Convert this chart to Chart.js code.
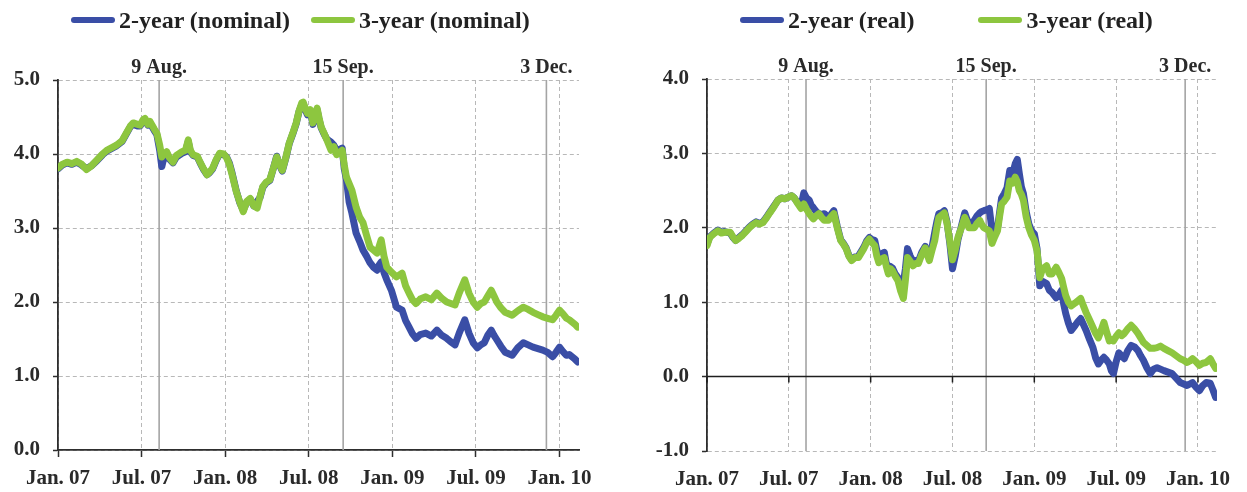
<!DOCTYPE html>
<html>
<head>
<meta charset="utf-8">
<script src="https://cdn.jsdelivr.net/npm/chart.js@4.4.1/dist/chart.umd.min.js"></script>
<style>
  html, body { margin: 0; padding: 0; background: #fff; }
  #wrap { position: relative; width: 1247px; height: 492px; overflow: hidden; }
  .panel { position: absolute; top: 0; height: 492px; }
  #p1 { left: 0; width: 620px; }
  #p2 { left: 620px; width: 627px; }
  .legend { position: absolute; top: 8px; display: flex; align-items: center;
            font: bold 24px "Liberation Serif", "Times New Roman", serif; color: #222;
            line-height: 24px; white-space: nowrap; }
  .legend .item { display: flex; align-items: center; }
  .legend .sw { display: inline-block; width: 44px; height: 6px; border-radius: 3px; margin-right: 4px; }
</style>
</head>
<body>
<div id="wrap">
  <div class="panel" id="p1"><canvas id="c1" width="620" height="492"></canvas></div>
  <div class="panel" id="p2"><canvas id="c2" width="627" height="492"></canvas></div>
  <div class="legend" id="lg1" style="left:71px; gap:21px;"></div>
  <div class="legend" id="lg2" style="left:740px; gap:64px;"></div>
</div>
<script>
// Months elapsed since January 2007; axis ticks every half year.
const xTickValues = [0, 6, 12, 18, 24, 30, 36];
const xTickLabels = ['Jan. 07', 'Jul. 07', 'Jan. 08', 'Jul. 08', 'Jan. 09', 'Jul. 09', 'Jan. 10'];

// Marked dates: 9 Aug 2007, 15 Sep 2008, 3 Dec 2009
const eventMonths = [7.26, 20.47, 35.06];
const eventLabels = ['9 Aug.', '15 Sep.', '3 Dec.'];

const nominalLabels = ['2-year (nominal)', '3-year (nominal)'];
const realLabels = ['2-year (real)', '3-year (real)'];

// Nominal yields (%)
const nominalMonths = [
  0, 0.3, 0.65, 1, 1.35, 1.7, 2.05, 2.4, 2.8, 3.2,
  3.5, 3.9, 4.2, 4.6, 4.9, 5.2, 5.4, 5.7, 5.9, 6.1,
  6.25, 6.45, 6.6, 6.9, 7.1, 7.3, 7.45, 7.6, 7.8, 8,
  8.25, 8.5, 8.9, 9.15, 9.35, 9.5, 9.7, 10, 10.2, 10.45,
  10.7, 10.9, 11.1, 11.35, 11.6, 11.9, 12.1, 12.3, 12.5, 12.8,
  13.05, 13.3, 13.55, 13.8, 14.05, 14.3, 14.5, 14.7, 14.95, 15.2,
  15.45, 15.7, 15.9, 16.1, 16.35, 16.6, 16.85, 17.1, 17.3, 17.5,
  17.6, 17.75, 17.9, 18.1, 18.3, 18.45, 18.6, 18.75, 18.9, 19.1,
  19.3, 19.6, 19.8, 20, 20.2, 20.4, 20.55, 20.7, 20.9, 21.1,
  21.4, 21.65, 21.9, 22.15, 22.4, 22.65, 22.9, 23.05, 23.2, 23.4,
  23.6, 23.95, 24.3, 24.7, 24.95, 25.2, 25.45, 25.7, 26, 26.4,
  26.8, 27.2, 27.55, 27.9, 28.2, 28.5, 28.8, 29.2, 29.5, 29.8,
  30.1, 30.35, 30.6, 30.85, 31.1, 31.3, 31.5, 31.8, 32.1, 32.35,
  32.6, 33, 33.4, 33.75, 34.1, 34.45, 34.8, 35.15, 35.5, 35.75,
  36, 36.25, 36.5, 36.7, 36.9, 37.1, 37.3
];
const nominal2y = [
  3.80, 3.85, 3.88, 3.86, 3.89, 3.85, 3.80, 3.84, 3.91, 3.99,
  4.04, 4.08, 4.11, 4.17, 4.27, 4.37, 4.40, 4.38, 4.38, 4.44,
  4.46, 4.39, 4.42, 4.32, 4.26, 4.05, 3.83, 3.95, 4.01, 3.93,
  3.88, 3.96, 4.01, 4.03, 4.17, 4.03, 3.98, 3.96, 3.88, 3.79,
  3.72, 3.75, 3.80, 3.91, 4.00, 3.99, 3.96, 3.88, 3.74, 3.50,
  3.34, 3.24, 3.35, 3.39, 3.30, 3.36, 3.41, 3.55, 3.61, 3.64,
  3.80, 3.97, 3.85, 3.77, 3.94, 4.14, 4.27, 4.41, 4.57, 4.67,
  4.68, 4.60, 4.53, 4.58, 4.40, 4.50, 4.60, 4.46, 4.35, 4.27,
  4.20, 4.16, 4.12, 4.05, 4.06, 4.08, 3.80, 3.66, 3.35, 3.20,
  2.93, 2.82, 2.70, 2.62, 2.53, 2.47, 2.43, 2.50, 2.54, 2.40,
  2.30, 2.15, 1.93, 1.89, 1.75, 1.66, 1.57, 1.51, 1.56, 1.58,
  1.54, 1.62, 1.55, 1.51, 1.46, 1.42, 1.58, 1.76, 1.58, 1.45,
  1.38, 1.42, 1.45, 1.55, 1.62, 1.55, 1.49, 1.40, 1.32, 1.30,
  1.28, 1.38, 1.45, 1.42, 1.39, 1.37, 1.35, 1.32, 1.26, 1.32,
  1.39, 1.33, 1.28, 1.29, 1.26, 1.23, 1.19
];
const nominal3y = [
  3.81, 3.86, 3.89, 3.87, 3.90, 3.86, 3.79, 3.84, 3.92, 4.00,
  4.05, 4.09, 4.12, 4.18, 4.28, 4.38, 4.42, 4.40, 4.39, 4.46,
  4.48, 4.40, 4.44, 4.34, 4.28, 4.12, 3.96, 4.00, 4.03, 3.95,
  3.89, 3.98, 4.03, 4.05, 4.19, 4.05, 3.99, 3.97, 3.89, 3.80,
  3.72, 3.76, 3.81, 3.92, 4.01, 4.00, 3.95, 3.86, 3.72, 3.49,
  3.35, 3.22, 3.36, 3.40, 3.30, 3.27, 3.42, 3.56, 3.62, 3.65,
  3.80, 3.96, 3.86, 3.78, 3.95, 4.15, 4.28, 4.42, 4.58, 4.69,
  4.70, 4.62, 4.55, 4.60, 4.42, 4.52, 4.62, 4.48, 4.36, 4.28,
  4.19, 4.05, 4.10, 3.99, 4.02, 4.05, 3.85, 3.69, 3.60, 3.51,
  3.28, 3.15, 3.07, 2.90, 2.74, 2.70, 2.66, 2.75, 2.84, 2.62,
  2.47, 2.40, 2.34, 2.39, 2.22, 2.12, 2.03, 1.98, 2.04, 2.07,
  2.03, 2.12, 2.05, 2.00, 1.98, 1.96, 2.12, 2.30, 2.12, 2.00,
  1.93, 1.98, 2.00, 2.08, 2.16, 2.08, 2.00, 1.92, 1.86, 1.84,
  1.82, 1.88, 1.93, 1.90, 1.86, 1.83, 1.80, 1.78, 1.76, 1.82,
  1.89, 1.84, 1.78, 1.76, 1.73, 1.70, 1.66
];

// Real yields (%)
const realMonths = [
  0, 0.2, 0.5, 0.8, 1.05, 1.3, 1.7, 1.9, 2.1, 2.35,
  2.6, 2.85, 3.1, 3.35, 3.6, 3.85, 4.1, 4.35, 4.6, 4.9,
  5.2, 5.45, 5.7, 5.95, 6.2, 6.4, 6.6, 6.9, 7.1, 7.3,
  7.5, 7.65, 7.8, 8, 8.2, 8.4, 8.6, 8.9, 9.1, 9.3,
  9.55, 9.8, 10, 10.2, 10.4, 10.6, 10.85, 11.1, 11.3, 11.5,
  11.7, 11.9, 12.1, 12.3, 12.45, 12.6, 12.8, 13, 13.15, 13.3,
  13.45, 13.6, 13.8, 14, 14.2, 14.4, 14.55, 14.7, 14.9, 15.1,
  15.3, 15.5, 15.75, 16, 16.15, 16.3, 16.5, 16.7, 16.85, 17,
  17.2, 17.4, 17.6, 17.8, 18, 18.2, 18.4, 18.65, 18.9, 19.05,
  19.2, 19.4, 19.6, 19.8, 20, 20.15, 20.3, 20.5, 20.7, 20.9,
  21.1, 21.3, 21.45, 21.6, 21.8, 22, 22.2, 22.4, 22.6, 22.75,
  22.9, 23.05, 23.2, 23.4, 23.6, 23.8, 24, 24.2, 24.4, 24.6,
  24.9, 25.1, 25.3, 25.6, 25.8, 26, 26.15, 26.3, 26.5, 26.7,
  27, 27.2, 27.4, 27.6, 27.8, 28.05, 28.3, 28.5, 28.7, 28.9,
  29.1, 29.3, 29.5, 29.65, 29.8, 30, 30.2, 30.4, 30.6, 30.85,
  31.1, 31.35, 31.6, 31.8, 32, 32.25, 32.5, 32.75, 33, 33.25,
  33.5, 33.8, 34.1, 34.4, 34.7, 34.95, 35.2, 35.4, 35.6, 35.85,
  36.1, 36.35, 36.6, 36.9, 37.1, 37.3
];
const real2y = [
  1.78, 1.88, 1.93, 1.97, 1.94, 1.95, 1.93, 1.87, 1.83, 1.87,
  1.91, 1.96, 2.01, 2.05, 2.08, 2.06, 2.08, 2.14, 2.21, 2.29,
  2.37, 2.40, 2.39, 2.41, 2.43, 2.40, 2.35, 2.30, 2.47, 2.40,
  2.37, 2.30, 2.27, 2.22, 2.19, 2.18, 2.19, 2.14, 2.18, 2.23,
  2.02, 1.84, 1.79, 1.73, 1.63, 1.57, 1.61, 1.62, 1.68, 1.74,
  1.82, 1.87, 1.84, 1.83, 1.70, 1.60, 1.65, 1.67, 1.52, 1.42,
  1.48, 1.46, 1.38, 1.33, 1.22, 1.26, 1.45, 1.72, 1.62, 1.55,
  1.56, 1.55, 1.67, 1.75, 1.66, 1.60, 1.74, 1.94, 2.08, 2.19,
  2.20, 2.23, 2.08, 1.80, 1.45, 1.62, 1.84, 2.02, 2.20, 2.12,
  2.05, 2.06, 2.10, 2.16, 2.20, 2.22, 2.23, 2.24, 2.26, 1.96,
  1.96, 1.99, 2.20, 2.40, 2.46, 2.54, 2.77, 2.72, 2.86, 2.92,
  2.73, 2.55, 2.46, 2.22, 2.05, 1.96, 1.92, 1.72, 1.22, 1.28,
  1.25, 1.16, 1.13, 1.06, 1.10, 1.16, 0.98, 0.85, 0.72, 0.62,
  0.69, 0.74, 0.78, 0.70, 0.62, 0.50, 0.39, 0.25, 0.17, 0.22,
  0.26, 0.22, 0.17, 0.08, 0.04, 0.20, 0.32, 0.28, 0.24, 0.35,
  0.42, 0.40, 0.35, 0.28, 0.22, 0.12, 0.04, 0.10, 0.12, 0.10,
  0.08, 0.06, 0.04, -0.02, -0.08, -0.10, -0.12, -0.10, -0.08, -0.14,
  -0.19, -0.12, -0.08, -0.09, -0.18, -0.28
];
const real3y = [
  1.76, 1.87, 1.92, 1.96, 1.93, 1.94, 1.94, 1.88, 1.83, 1.86,
  1.90, 1.95, 2.00, 2.04, 2.07, 2.05, 2.07, 2.13, 2.20, 2.28,
  2.37, 2.40, 2.39, 2.41, 2.43, 2.40, 2.34, 2.26, 2.32, 2.25,
  2.19, 2.15, 2.12, 2.16, 2.19, 2.14, 2.10, 2.10, 2.15, 2.19,
  2.00, 1.83, 1.78, 1.72, 1.62, 1.56, 1.60, 1.60, 1.66, 1.72,
  1.80, 1.85, 1.80, 1.76, 1.62, 1.53, 1.58, 1.60, 1.48, 1.38,
  1.45, 1.42, 1.35, 1.29, 1.15, 1.05, 1.30, 1.60, 1.55, 1.49,
  1.52, 1.52, 1.64, 1.73, 1.64, 1.56, 1.70, 1.83, 2.00, 2.14,
  2.17, 2.20, 2.06, 1.83, 1.57, 1.70, 1.87, 2.00, 2.14, 2.08,
  2.00, 2.00, 2.00, 2.06, 2.10, 2.04, 2.00, 1.98, 1.96, 1.79,
  1.88, 1.96, 2.15, 2.32, 2.36, 2.41, 2.63, 2.60, 2.68, 2.62,
  2.50, 2.45, 2.37, 2.15, 2.00, 1.90, 1.83, 1.69, 1.33, 1.45,
  1.49, 1.38, 1.38, 1.47, 1.40, 1.32, 1.20, 1.09, 1.00, 0.95,
  0.99, 1.02, 1.05, 0.95, 0.86, 0.76, 0.66, 0.58, 0.52, 0.62,
  0.73, 0.60, 0.48, 0.50, 0.48, 0.54, 0.59, 0.55, 0.58, 0.64,
  0.69, 0.64, 0.58, 0.52, 0.46, 0.42, 0.38, 0.38, 0.39, 0.41,
  0.38, 0.35, 0.32, 0.28, 0.24, 0.22, 0.19, 0.21, 0.24, 0.20,
  0.15, 0.18, 0.19, 0.24, 0.17, 0.11
];

const BLUE = '#3a4ea6';
const GREEN = '#8dc63f';
const GRID = '#b8b8b8';
const AXIS = '#2e2e2e';
const FONT = '"Liberation Serif", "Times New Roman", serif';

Chart.defaults.font.family = FONT;
Chart.defaults.font.size = 21;
Chart.defaults.font.weight = 'bold';
Chart.defaults.color = '#2a2a2a';

const toPoints = (xs, ys) => xs.map((x, i) => ({ x, y: ys[i] }));

// Vertical markers for the key dates, with their captions above the plot
const eventMarkers = {
  id: 'eventMarkers',
  beforeDatasetsDraw(chart) {
    const { ctx, chartArea: a, scales: { x } } = chart;
    ctx.save();
    ctx.strokeStyle = '#a4a4a4';
    ctx.lineWidth = 1.6;
    eventMonths.forEach(m => {
      const px = x.getPixelForValue(m);
      ctx.beginPath();
      ctx.moveTo(px, a.top);
      ctx.lineTo(px, a.bottom);
      ctx.stroke();
    });
    ctx.restore();
  },
  afterDraw(chart) {
    const { ctx, chartArea: a, scales: { x } } = chart;
    ctx.save();
    ctx.font = 'bold 20px ' + FONT;
    ctx.fillStyle = '#2a2a2a';
    ctx.textAlign = 'center';
    ctx.textBaseline = 'alphabetic';
    eventMonths.forEach((m, i) => {
      ctx.fillText(eventLabels[i], x.getPixelForValue(m), a.top - 7);
    });
    ctx.restore();
  }
};

// Solid zero line with half-year tick marks (real-yield panel)
const zeroAxis = {
  id: 'zeroAxis',
  beforeDatasetsDraw(chart) {
    const { ctx, chartArea: a, scales: { x, y } } = chart;
    const py = y.getPixelForValue(0);
    ctx.save();
    ctx.strokeStyle = '#1e1e1e';
    ctx.lineWidth = 1.5;
    ctx.beginPath();
    ctx.moveTo(a.left, py);
    ctx.lineTo(a.right, py);
    xTickValues.forEach(v => {
      const px = x.getPixelForValue(v);
      ctx.moveTo(px, py);
      ctx.lineTo(px, py + 6);
    });
    ctx.stroke();
    ctx.restore();
  }
};

function makeChart(canvasId, opts) {
  return new Chart(document.getElementById(canvasId), {
    type: 'line',
    data: {
      datasets: [
        { label: opts.labels[0], data: toPoints(opts.months, opts.s2),
          borderColor: BLUE, backgroundColor: BLUE, borderWidth: 7,
          borderJoinStyle: 'round', borderCapStyle: 'round',
          pointRadius: 0, tension: 0, order: 1 },
        { label: opts.labels[1], data: toPoints(opts.months, opts.s3),
          borderColor: GREEN, backgroundColor: GREEN, borderWidth: 7,
          borderJoinStyle: 'round', borderCapStyle: 'round',
          pointRadius: 0, tension: 0, order: 0 }
      ]
    },
    options: {
      responsive: false,
      animation: false,
      devicePixelRatio: 1,
      events: [],
      layout: { padding: { top: opts.top, right: opts.padRight, left: 0, bottom: 0 } },
      plugins: { legend: { display: false }, tooltip: { enabled: false } },
      scales: {
        x: {
          type: 'linear', min: 0, max: 37.4,
          afterBuildTicks: axis => { axis.ticks = xTickValues.map(v => ({ value: v })); },
          afterFit: axis => { axis.height = opts.xHeight; },
          ticks: {
            autoSkip: false, maxRotation: 0, padding: opts.xPad,
            callback: (v, i) => xTickLabels[i]
          },
          grid: {
            color: GRID, lineWidth: 1,
            drawTicks: opts.xTicks, tickLength: 7, tickColor: AXIS, tickWidth: 1.5, tickBorderDash: []
          },
          border: { display: opts.xBorder, color: AXIS, width: 1.8, dash: [4, 3] }
        },
        y: {
          min: opts.yMin, max: opts.yMax,
          afterFit: axis => { axis.width = opts.yWidth; },
          ticks: { stepSize: 1, padding: 13, callback: v => v.toFixed(1) },
          grid: { color: GRID, lineWidth: 1, tickLength: 5, tickColor: AXIS, tickWidth: 1.5, tickBorderDash: [] },
          border: { display: true, color: AXIS, width: 1.8, dash: [4, 3] }
        }
      }
    },
    plugins: opts.extraPlugins
  });
}

function buildLegend(elId, chart) {
  const el = document.getElementById(elId);
  chart.data.datasets.forEach(ds => {
    const item = document.createElement('span');
    item.className = 'item';
    const sw = document.createElement('span');
    sw.className = 'sw';
    sw.style.background = ds.borderColor;
    item.appendChild(sw);
    item.appendChild(document.createTextNode(ds.label));
    el.appendChild(item);
  });
}

const nominalChart = makeChart('c1', {
  labels: nominalLabels, months: nominalMonths, s2: nominal2y, s3: nominal3y,
  yMin: 0, yMax: 5, yWidth: 58, top: 80, padRight: 41, xHeight: 42,
  xPad: 9, xTicks: true, xBorder: true, extraPlugins: [eventMarkers]
});

const realChart = makeChart('c2', {
  labels: realLabels, months: realMonths, s2: real2y, s3: real3y,
  yMin: -1, yMax: 4, yWidth: 87, top: 79, padRight: 25, xHeight: 41,
  xPad: 16, xTicks: false, xBorder: false, extraPlugins: [eventMarkers, zeroAxis]
});

buildLegend('lg1', nominalChart);
buildLegend('lg2', realChart);
</script>
</body>
</html>
